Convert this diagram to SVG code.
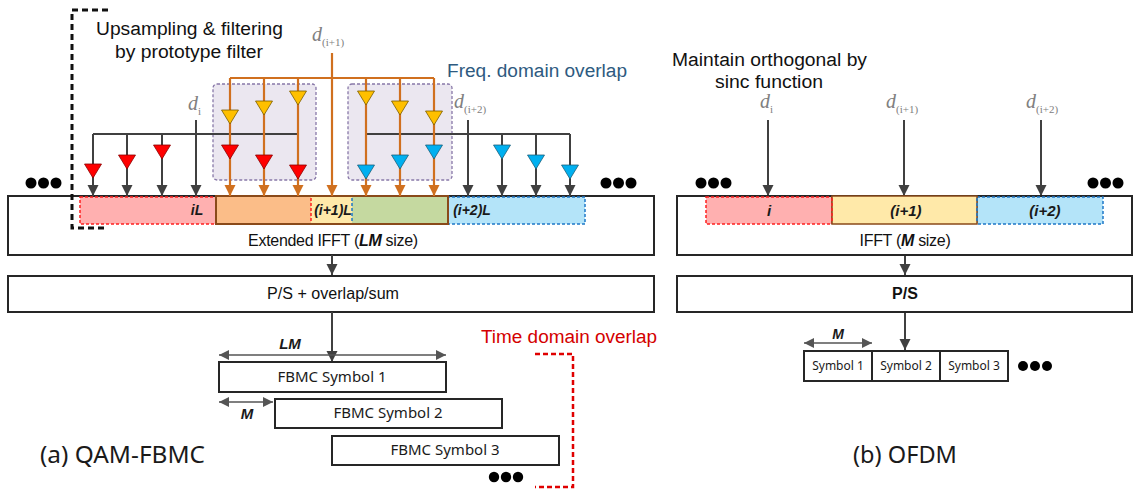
<svg xmlns="http://www.w3.org/2000/svg" width="1135" height="491" viewBox="0 0 1135 491">
<style>
.box{fill:#fff;stroke:#262626;stroke-width:2}
.blk{stroke:#404040;stroke-width:2;fill:none}
.org{stroke:#d0701f;stroke-width:2.2;fill:none}
.dim{stroke:#555;stroke-width:1.6;fill:none}
.lbl{font-family:"Liberation Sans",Arial,sans-serif;fill:#111}
.nl{font-family:"Noto Sans","Liberation Sans",sans-serif;fill:#1a1a1a}
.bi{font-family:"Liberation Sans",Arial,sans-serif;font-weight:bold;font-style:italic;fill:#1a1a1a}
.dv{font-family:"Liberation Serif","Times New Roman",serif;font-style:italic;fill:#808080;font-size:20px}
.sub{font-size:11px;font-style:normal}
.red{fill:#ff0000;stroke:#8a0000;stroke-width:0.8}
.yel{fill:#ffc000;stroke:#7a5c00;stroke-width:0.8}
.blu{fill:#00b0f0;stroke:#1c5f7a;stroke-width:0.8}
.shade{fill:#ebe7f0;stroke:#8878a8;stroke-width:1.3;stroke-dasharray:3 2}
.dot{fill:#000}
</style>
<defs>
<marker id="ah" viewBox="0 0 10 10" refX="10" refY="5" markerWidth="11" markerHeight="12" markerUnits="userSpaceOnUse" orient="auto"><path d="M0,0 L10,5 L0,10 z" fill="#404040"/></marker>
<marker id="ao" viewBox="0 0 10 10" refX="10" refY="5" markerWidth="11" markerHeight="12" markerUnits="userSpaceOnUse" orient="auto"><path d="M0,0 L10,5 L0,10 z" fill="#d0701f"/></marker>
<marker id="ad" viewBox="0 0 10 10" refX="10" refY="5" markerWidth="10" markerHeight="10" markerUnits="userSpaceOnUse" orient="auto-start-reverse"><path d="M0,0 L10,5 L0,10 z" fill="#555"/></marker>
<path id="tri" d="M-8.5,0 L8.5,0 L0,14 z"/>
</defs>

<!-- ===== (a) QAM-FBMC ===== -->
<text class="lbl" x="96" y="35" font-size="18" textLength="187" lengthAdjust="spacingAndGlyphs">Upsampling &amp; filtering</text>
<text class="lbl" x="115" y="58" font-size="18" textLength="148" lengthAdjust="spacingAndGlyphs">by prototype filter</text>
<text x="447" y="77" font-family="Liberation Sans,Arial,sans-serif" font-size="18" fill="#2e5a80" textLength="180" lengthAdjust="spacingAndGlyphs">Freq. domain overlap</text>

<g id="ifft-ext">
<rect class="box" x="8" y="196" width="646" height="59"/>
<rect x="80" y="197" width="231" height="27" fill="#ffb0b0" stroke="#ff2020" stroke-width="1.5" stroke-dasharray="3 2"/>
<rect x="352" y="197" width="233" height="27" fill="#b4e4f9" stroke="#1f78c8" stroke-width="1.5" stroke-dasharray="3 2"/>
<rect x="216" y="197" width="95" height="27" fill="#fbbd88"/>
<rect x="311" y="197" width="41" height="27" fill="#ffe9a9"/>
<rect x="352" y="197" width="96" height="27" fill="#c5d9a0"/>
<rect x="216" y="196" width="232" height="28" fill="none" stroke="#8a4a1a" stroke-width="2"/>
<line x1="311" y1="198" x2="311" y2="223" stroke="#ff2020" stroke-width="1.5" stroke-dasharray="3 2"/>
<line x1="352" y1="198" x2="352" y2="223" stroke="#1f78c8" stroke-width="1.5" stroke-dasharray="3 2"/>
<text class="bi" x="197" y="215" font-size="14" text-anchor="middle">iL</text>
<text class="bi" x="333" y="215" font-size="14" text-anchor="middle">(i+1)L</text>
<text class="bi" x="472" y="215" font-size="14" text-anchor="middle">(i+2)L</text>
<text class="lbl" x="333" y="246" font-size="16" text-anchor="middle" letter-spacing="-0.3">Extended IFFT (<tspan font-weight="bold" font-style="italic">LM</tspan> size)</text>
</g>

<g id="bracket-upsampling">
<path d="M108,10 H72 V228 H108" fill="none" stroke="#111" stroke-width="3" stroke-dasharray="6 4"/>
</g>

<g id="ps-overlap">
<rect class="box" x="8" y="276" width="646" height="36"/>
<text class="lbl" x="333" y="299" font-size="16" text-anchor="middle" textLength="132" lengthAdjust="spacingAndGlyphs">P/S + overlap/sum</text>
</g>

<g id="shade-boxes">
<rect class="shade" x="213" y="84" width="103" height="96" rx="4"/>
<rect class="shade" x="348" y="84" width="104" height="96" rx="4"/>
</g>

<g id="labels-d-a">
<text class="dv" x="188" y="110">d<tspan class="sub" dy="5">i</tspan></text>
<text class="dv" x="312" y="41">d<tspan class="sub" dy="5">(i+1)</tspan></text>
<text class="dv" x="454" y="108">d<tspan class="sub" dy="5">(i+2)</tspan></text>
</g>

<g id="connectors">
<path class="blk" d="M93,134 H298"/>
<line class="blk" x1="196" y1="120" x2="196" y2="196" marker-end="url(#ah)"/>
<line class="blk" x1="93" y1="134" x2="93" y2="196" marker-end="url(#ah)"/>
<line class="blk" x1="127" y1="134" x2="127" y2="196" marker-end="url(#ah)"/>
<line class="blk" x1="162" y1="134" x2="162" y2="196" marker-end="url(#ah)"/>
<path class="blk" d="M366,134 H570"/>
<line class="blk" x1="468" y1="120" x2="468" y2="196" marker-end="url(#ah)"/>
<line class="blk" x1="502" y1="134" x2="502" y2="196" marker-end="url(#ah)"/>
<line class="blk" x1="536" y1="134" x2="536" y2="196" marker-end="url(#ah)"/>
<line class="blk" x1="570" y1="134" x2="570" y2="196" marker-end="url(#ah)"/>
<path class="org" d="M230,78 H434"/>
<line class="org" x1="332" y1="53" x2="332" y2="196" marker-end="url(#ao)"/>
<line class="org" x1="230" y1="78" x2="230" y2="196" marker-end="url(#ao)"/>
<line class="org" x1="264" y1="78" x2="264" y2="196" marker-end="url(#ao)"/>
<line class="org" x1="298" y1="78" x2="298" y2="196" marker-end="url(#ao)"/>
<line class="org" x1="366" y1="78" x2="366" y2="196" marker-end="url(#ao)"/>
<line class="org" x1="400" y1="78" x2="400" y2="196" marker-end="url(#ao)"/>
<line class="org" x1="434" y1="78" x2="434" y2="196" marker-end="url(#ao)"/>
<line class="blk" x1="332" y1="255" x2="332" y2="275" marker-end="url(#ah)"/>
<line class="blk" x1="332" y1="312" x2="332" y2="362" marker-end="url(#ah)"/>
<line class="dim" x1="219" y1="355" x2="446" y2="355" marker-start="url(#ad)" marker-end="url(#ad)"/>
<line class="dim" x1="219" y1="402" x2="273" y2="402" marker-start="url(#ad)" marker-end="url(#ad)"/>
<line class="blk" x1="768" y1="120" x2="768" y2="196" marker-end="url(#ah)"/>
<line class="blk" x1="904" y1="120" x2="904" y2="196" marker-end="url(#ah)"/>
<line class="blk" x1="1041" y1="120" x2="1041" y2="196" marker-end="url(#ah)"/>
<line class="blk" x1="905" y1="255" x2="905" y2="275" marker-end="url(#ah)"/>
<line class="blk" x1="905" y1="312" x2="905" y2="350" marker-end="url(#ah)"/>
<line class="dim" x1="804" y1="343" x2="872" y2="343" marker-start="url(#ad)" marker-end="url(#ad)"/>
</g>

<g id="filter-taps">
<use href="#tri" class="red" x="93" y="164"/>
<use href="#tri" class="red" x="127" y="155"/>
<use href="#tri" class="red" x="162" y="145"/>
<use href="#tri" class="red" x="230" y="145"/>
<use href="#tri" class="red" x="264" y="155"/>
<use href="#tri" class="red" x="298" y="165"/>
<use href="#tri" class="yel" x="230" y="110"/>
<use href="#tri" class="yel" x="264" y="101"/>
<use href="#tri" class="yel" x="298" y="91"/>
<use href="#tri" class="yel" x="366" y="91"/>
<use href="#tri" class="yel" x="400" y="101"/>
<use href="#tri" class="yel" x="434" y="111"/>
<use href="#tri" class="blu" x="366" y="165"/>
<use href="#tri" class="blu" x="400" y="155"/>
<use href="#tri" class="blu" x="434" y="145"/>
<use href="#tri" class="blu" x="502" y="145"/>
<use href="#tri" class="blu" x="536" y="155"/>
<use href="#tri" class="blu" x="570" y="165"/>
</g>

<g id="dots-a">
<circle class="dot" cx="31" cy="183" r="5.5"/><circle class="dot" cx="43.5" cy="183" r="5.5"/><circle class="dot" cx="56" cy="183" r="5.5"/>
<circle class="dot" cx="606" cy="183" r="5.5"/><circle class="dot" cx="618.5" cy="183" r="5.5"/><circle class="dot" cx="631" cy="183" r="5.5"/>
<circle class="dot" cx="494" cy="477" r="5.2"/><circle class="dot" cx="506" cy="477" r="5.2"/><circle class="dot" cx="518" cy="477" r="5.2"/>
</g>

<text class="bi" x="290" y="349" font-size="15" text-anchor="middle">LM</text>
<text class="bi" x="247" y="419" font-size="15" text-anchor="middle">M</text>

<g id="fbmc-sym1">
<rect class="box" x="219" y="362" width="227" height="30"/>
<text class="nl" x="332" y="382" font-size="15" text-anchor="middle">FBMC Symbol 1</text>
</g>
<g id="fbmc-sym2">
<rect class="box" x="275" y="399" width="227" height="29"/>
<text class="nl" x="388" y="418" font-size="15" text-anchor="middle">FBMC Symbol 2</text>
</g>
<g id="fbmc-sym3">
<rect class="box" x="332" y="436" width="227" height="29"/>
<text class="nl" x="445" y="455" font-size="15" text-anchor="middle">FBMC Symbol 3</text>
</g>

<g id="time-overlap">
<text x="481" y="343" font-family="Liberation Sans,Arial,sans-serif" font-size="18" fill="#d40000" textLength="176" lengthAdjust="spacingAndGlyphs">Time domain overlap</text>
<path d="M535,354 H573 V487 H535" fill="none" stroke="#e00000" stroke-width="2.5" stroke-dasharray="5 3"/>
</g>

<text class="nl" x="40" y="463" font-size="23" textLength="165" lengthAdjust="spacingAndGlyphs">(a) QAM-FBMC</text>

<!-- ===== (b) OFDM ===== -->
<text class="lbl" x="672" y="66" font-size="18" textLength="195" lengthAdjust="spacingAndGlyphs">Maintain orthogonal by</text>
<text class="lbl" x="715" y="88" font-size="18" textLength="108" lengthAdjust="spacingAndGlyphs">sinc function</text>

<g id="labels-d-b">
<text class="dv" x="760" y="108">d<tspan class="sub" dy="5">i</tspan></text>
<text class="dv" x="886" y="108">d<tspan class="sub" dy="5">(i+1)</tspan></text>
<text class="dv" x="1026" y="108">d<tspan class="sub" dy="5">(i+2)</tspan></text>
</g>

<g id="ifft-m">
<rect class="box" x="677" y="196" width="455" height="59"/>
<rect x="706" y="197" width="126" height="27" fill="#ffb0b0" stroke="#ff2020" stroke-width="1.5" stroke-dasharray="3 2"/>
<rect x="977" y="197" width="126" height="27" fill="#b4e4f9" stroke="#1f78c8" stroke-width="1.5" stroke-dasharray="3 2"/>
<rect x="832" y="196" width="145" height="28" fill="#ffe9a9" stroke="#8a4a1a" stroke-width="1.5"/>
<line x1="832" y1="198" x2="832" y2="223" stroke="#ff2020" stroke-width="1.5" stroke-dasharray="3 2"/>
<line x1="977" y1="198" x2="977" y2="223" stroke="#1f78c8" stroke-width="1.5" stroke-dasharray="3 2"/>
<text class="bi" x="769" y="216" font-size="15" text-anchor="middle">i</text>
<text class="bi" x="906" y="216" font-size="15" text-anchor="middle">(i+1)</text>
<text class="bi" x="1045" y="216" font-size="15" text-anchor="middle">(i+2)</text>
<text class="lbl" x="905" y="246" font-size="16" text-anchor="middle" letter-spacing="-0.3">IFFT (<tspan font-weight="bold" font-style="italic">M</tspan> size)</text>
</g>

<g id="ps-ofdm">
<rect class="box" x="677" y="276" width="455" height="36"/>
<text class="lbl" x="905" y="299" font-size="16" font-weight="bold" text-anchor="middle">P/S</text>
</g>

<text class="bi" x="838" y="339" font-size="14" text-anchor="middle">M</text>

<g id="ofdm-sym1">
<rect class="box" x="804" y="351" width="68" height="30"/>
<text class="nl" x="838" y="370" font-size="12" text-anchor="middle">Symbol 1</text>
</g>
<g id="ofdm-sym2">
<rect class="box" x="872" y="351" width="68" height="30"/>
<text class="nl" x="906" y="370" font-size="12" text-anchor="middle">Symbol 2</text>
</g>
<g id="ofdm-sym3">
<rect class="box" x="940" y="351" width="68" height="30"/>
<text class="nl" x="974" y="370" font-size="12" text-anchor="middle">Symbol 3</text>
</g>

<g id="dots-b">
<circle class="dot" cx="701" cy="183" r="5.5"/><circle class="dot" cx="713.5" cy="183" r="5.5"/><circle class="dot" cx="726" cy="183" r="5.5"/>
<circle class="dot" cx="1093" cy="183" r="5.5"/><circle class="dot" cx="1105.5" cy="183" r="5.5"/><circle class="dot" cx="1118" cy="183" r="5.5"/>
<circle class="dot" cx="1023" cy="366" r="5"/><circle class="dot" cx="1035" cy="366" r="5"/><circle class="dot" cx="1047" cy="366" r="5"/>
</g>

<text class="nl" x="853" y="463" font-size="23" textLength="104" lengthAdjust="spacingAndGlyphs">(b) OFDM</text>
</svg>
